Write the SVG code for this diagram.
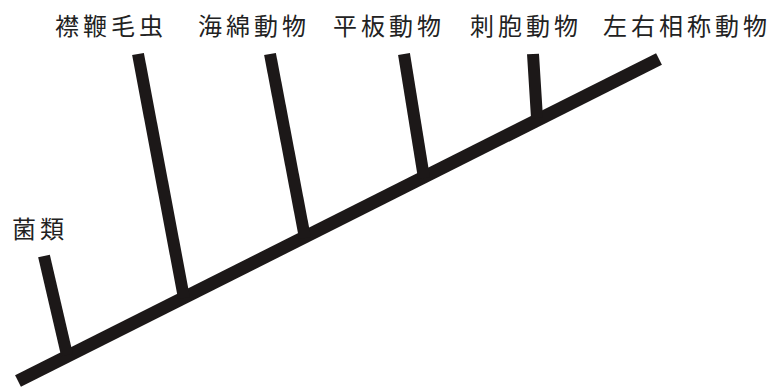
<svg xmlns="http://www.w3.org/2000/svg" width="776" height="391" viewBox="0 0 776 391">
<style>
.lbl{font-family:"Noto Sans CJK JP","Noto Sans CJK SC",sans-serif;font-size:24px;fill:#222;letter-spacing:4px}
.br{stroke:#1c1818;stroke-width:12;stroke-linecap:butt;fill:none}
</style>
<rect width="776" height="391" fill="#fff"/>
<g id="connectors">
<line class="br" x1="18" y1="381" x2="659" y2="59" style="stroke-width:13"/>
<line class="br" x1="44" y1="256" x2="67" y2="355"/>
<line class="br" x1="138" y1="54" x2="184" y2="298"/>
<line class="br" x1="270" y1="54" x2="305" y2="238"/>
<line class="br" x1="404" y1="54" x2="424" y2="178"/>
<line class="br" x1="533" y1="54" x2="537" y2="118"/>
</g>
<g id="fungi"><text class="lbl" x="12" y="238">菌類</text></g>
<g id="choanoflagellates"><text class="lbl" x="55" y="35">襟鞭毛虫</text></g>
<g id="porifera"><text class="lbl" x="198" y="35">海綿動物</text></g>
<g id="placozoa"><text class="lbl" x="333" y="35">平板動物</text></g>
<g id="cnidaria"><text class="lbl" x="470" y="35">刺胞動物</text></g>
<g id="bilateria"><text class="lbl" x="603" y="35">左右相称動物</text></g>
</svg>
